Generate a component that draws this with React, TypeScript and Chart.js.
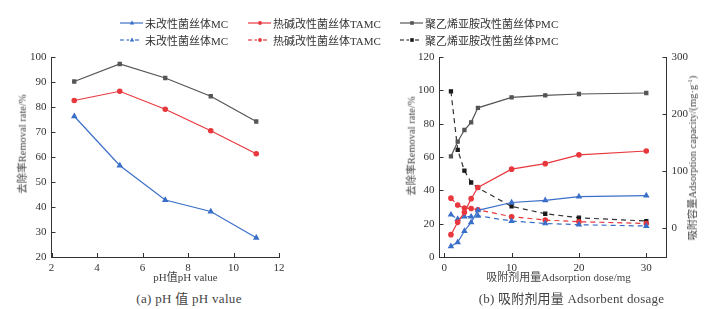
import React, { useEffect, useRef } from "react";
import { Chart, registerables } from "chart.js";

Chart.register(...registerables);

// ---------- data ----------
const phValues = [3, 5, 7, 9, 11];
const phMC = [76.3, 56.6, 42.8, 38.2, 27.7];
const phTAMC = [82.6, 86.3, 79.1, 70.5, 61.3];
const phPMC = [90.2, 97.2, 91.6, 84.3, 74.2];

const doseValues = [1, 2, 3, 4, 5, 10, 15, 20, 30];
const doseRateMC = [6.4, 8.8, 15.6, 20.8, 28.0, 32.7, 34.0, 36.2, 36.8];
const doseRateTAMC = [13.4, 20.8, 26.8, 35.0, 41.7, 52.7, 56.0, 61.3, 63.6];
const doseRatePMC = [60.4, 69.2, 76.2, 80.8, 89.5, 95.8, 97.0, 97.8, 98.4];
const doseCapMC = [24.0, 16.4, 20.5, 20.5, 22.2, 12.9, 8.7, 6.5, 4.2];
const doseCapTAMC = [53.0, 40.9, 35.6, 35.0, 32.7, 20.5, 14.7, 11.7, 8.7];
const doseCapPMC = [240.0, 137.6, 101.0, 80.4, 71.0, 38.5, 25.7, 18.7, 12.9];

const phTicks = [2, 4, 6, 8, 10, 12];
const phRateTicks = [20, 30, 40, 50, 60, 70, 80, 90, 100];
const doseTicks = [0, 10, 20, 30];
const doseRateTicks = [0, 20, 40, 60, 80, 100, 120];
const capacityTicks = [0, 100, 200, 300];

const seriesNames = ["未改性菌丝体MC", "热碱改性菌丝体TAMC", "聚乙烯亚胺改性菌丝体PMC"];

// ---------- styles ----------
const BLUE = "#3a6fc9";
const RED = "#e8383d";
const GRAY = "#555555";
const BLACK = "#1a1a1a";
const AXIS = "#333333";
const FONT = '"Liberation Serif", "Noto Sans CJK SC", serif';

const toXY = (xs: number[], ys: number[]) => xs.map((x, i) => ({ x, y: ys[i] }));

const inwardTicks = {
  id: "inwardTicks",
  afterDraw(chart: any) {
    const ctx = chart.ctx;
    const { left, right, bottom } = chart.chartArea;
    ctx.save();
    ctx.strokeStyle = AXIS;
    ctx.lineWidth = 1;
    Object.values(chart.scales).forEach((s: any) => {
      s.ticks.forEach((_t: any, i: number) => {
        const p = Math.round(s.getPixelForTick(i)) + 0.5;
        ctx.beginPath();
        if (s.position === "left") {
          ctx.moveTo(left, p);
          ctx.lineTo(left + 4, p);
        } else if (s.position === "right") {
          ctx.moveTo(right, p);
          ctx.lineTo(right - 4, p);
        } else {
          ctx.moveTo(p, bottom);
          ctx.lineTo(p, bottom - 4);
        }
        ctx.stroke();
      });
    });
    ctx.restore();
  },
};

const fixedTicks = (vals: number[]) => (scale: any) => {
  scale.ticks = vals.map((v) => ({ value: v }));
};

const axisBase = (vals: number[], min: number, max: number, size: number, horizontal: boolean) => ({
  type: "linear" as const,
  min,
  max,
  afterBuildTicks: fixedTicks(vals),
  afterFit: (s: any) => {
    if (horizontal) s.height = size;
    else s.width = size;
  },
  grid: { display: false, drawTicks: false },
  border: { display: true, color: AXIS, width: 1 },
  ticks: {
    color: AXIS,
    padding: 5,
    font: { family: FONT, size: 11 },
    autoSkip: false,
    maxRotation: 0,
  },
});

const lineDs = (
  label: string,
  data: { x: number; y: number }[],
  color: string,
  pointColor: string,
  style: string,
  dashed: boolean,
  yAxisID = "y"
) => ({
  label,
  data,
  borderColor: color,
  backgroundColor: pointColor,
  pointBackgroundColor: pointColor,
  pointBorderColor: pointColor,
  pointStyle: style,
  pointRadius: style === "triangle" ? 2.6 : 2.2,
  borderWidth: 1.2,
  borderDash: dashed ? [5, 4] : [],
  tension: 0,
  yAxisID,
});

function PhChart() {
  const ref = useRef<HTMLCanvasElement>(null);
  useEffect(() => {
    const chart = new Chart(ref.current as HTMLCanvasElement, {
      type: "line",
      data: {
        datasets: [
          lineDs(seriesNames[0], toXY(phValues, phMC), BLUE, BLUE, "triangle", false),
          lineDs(seriesNames[1], toXY(phValues, phTAMC), RED, RED, "circle", false),
          lineDs(seriesNames[2], toXY(phValues, phPMC), GRAY, GRAY, "rect", false),
        ],
      },
      options: {
        animation: false,
        responsive: false,
        maintainAspectRatio: false,
        layout: { padding: { top: 57, right: 21, left: 0, bottom: 0 } },
        plugins: { legend: { display: false }, tooltip: { enabled: false } },
        scales: {
          x: { ...axisBase(phTicks, 2, 12, 23, true), position: "bottom" },
          y: { ...axisBase(phRateTicks, 20, 100, 51.5, false), position: "left" },
        },
      } as any,
      plugins: [inwardTicks],
    });
    return () => chart.destroy();
  }, []);
  return (
    <canvas
      ref={ref}
      width={300}
      height={280}
      style={{ position: "absolute", left: 0, top: 0, width: 300, height: 280 }}
    />
  );
}

function DoseChart() {
  const ref = useRef<HTMLCanvasElement>(null);
  useEffect(() => {
    const chart = new Chart(ref.current as HTMLCanvasElement, {
      type: "line",
      data: {
        datasets: [
          lineDs(seriesNames[0], toXY(doseValues, doseRateMC), BLUE, BLUE, "triangle", false, "y"),
          lineDs(seriesNames[1], toXY(doseValues, doseRateTAMC), RED, RED, "circle", false, "y"),
          lineDs(seriesNames[2], toXY(doseValues, doseRatePMC), GRAY, GRAY, "rect", false, "y"),
          lineDs(seriesNames[0], toXY(doseValues, doseCapMC), BLUE, BLUE, "triangle", true, "y2"),
          lineDs(seriesNames[1], toXY(doseValues, doseCapTAMC), RED, RED, "circle", true, "y2"),
          lineDs(seriesNames[2], toXY(doseValues, doseCapPMC), "#333333", BLACK, "rect", true, "y2"),
        ],
      },
      options: {
        animation: false,
        responsive: false,
        maintainAspectRatio: false,
        layout: { padding: { top: 57, right: 0, left: 0, bottom: 0 } },
        plugins: { legend: { display: false }, tooltip: { enabled: false } },
        scales: {
          x: { ...axisBase(doseTicks, -0.7, 33, 23, true), position: "bottom" },
          y: { ...axisBase(doseRateTicks, 0, 120, 75.5, false), position: "left" },
          y2: {
            ...axisBase(capacityTicks, -50, 300, 60.5, false),
            position: "right",
          },
        },
      } as any,
      plugins: [inwardTicks],
    });
    return () => chart.destroy();
  }, []);
  return (
    <canvas
      ref={ref}
      width={363}
      height={280}
      style={{ position: "absolute", left: 364, top: 0, width: 363, height: 280 }}
    />
  );
}

function Marker({ shape, color }: { shape: string; color: string }) {
  if (shape === "triangle") return <polygon points="12,1.6 14.3,5.6 9.7,5.6" fill={color} />;
  if (shape === "circle") return <circle cx={12} cy={4} r={1.9} fill={color} />;
  return <rect x={10.2} y={2.2} width={3.6} height={3.6} fill={color} />;
}

function LegendItem({
  x,
  y,
  color,
  pointColor,
  shape,
  dashed,
  label,
}: {
  x: number;
  y: number;
  color: string;
  pointColor: string;
  shape: string;
  dashed: boolean;
  label: string;
}) {
  return (
    <div
      style={{
        position: "absolute",
        left: x,
        top: y - 8,
        height: 16,
        display: "flex",
        alignItems: "center",
        whiteSpace: "nowrap",
      }}
    >
      <svg width={23} height={8} style={{ display: "block" }}>
        {dashed ? (
          <>
            <line x1={0} y1={4} x2={4} y2={4} stroke={color} strokeWidth={1.2} />
            <line x1={6.5} y1={4} x2={9} y2={4} stroke={color} strokeWidth={1.2} />
            <line x1={15} y1={4} x2={19} y2={4} stroke={color} strokeWidth={1.2} />
          </>
        ) : (
          <line x1={0} y1={4} x2={23} y2={4} stroke={color} strokeWidth={1.2} />
        )}
        <Marker shape={shape} color={pointColor} />
      </svg>
      <span style={{ marginLeft: 2, fontFamily: FONT, fontSize: 11, color: "#333" }}>{label}</span>
    </div>
  );
}

function Label({
  x,
  y,
  text,
  rotate,
  size = 11,
  spacing = 0,
}: {
  x: number;
  y: number;
  text: React.ReactNode;
  rotate?: boolean;
  size?: number;
  spacing?: number;
}) {
  return (
    <div
      style={{
        position: "absolute",
        left: x,
        top: y,
        transform: `translate(-50%, -50%)${rotate ? " rotate(-90deg)" : ""}`,
        whiteSpace: "nowrap",
        fontFamily: FONT,
        fontSize: size,
        letterSpacing: spacing,
        color: "#444",
        lineHeight: 1,
      }}
    >
      {text}
    </div>
  );
}

export default function App() {
  useEffect(() => {
    document.body.style.margin = "0";
  }, []);
  const cols = [120, 248, 400];
  const styles = [
    { color: BLUE, point: BLUE, shape: "triangle" },
    { color: RED, point: RED, shape: "circle" },
    { color: GRAY, point: GRAY, shape: "rect" },
  ];
  const dashedStyles = [
    { color: BLUE, point: BLUE, shape: "triangle" },
    { color: RED, point: RED, shape: "circle" },
    { color: "#333", point: BLACK, shape: "rect" },
  ];
  return (
    <div
      style={{
        position: "fixed",
        left: 0,
        top: 0,
        width: 727,
        height: 309,
        background: "#fff",
        overflow: "hidden",
      }}
    >
      <PhChart />
      <DoseChart />
      {seriesNames.map((n, i) => (
        <LegendItem
          key={"s" + i}
          x={cols[i]}
          y={23}
          color={styles[i].color}
          pointColor={styles[i].point}
          shape={styles[i].shape}
          dashed={false}
          label={n}
        />
      ))}
      {seriesNames.map((n, i) => (
        <LegendItem
          key={"d" + i}
          x={cols[i]}
          y={40}
          color={dashedStyles[i].color}
          pointColor={dashedStyles[i].point}
          shape={dashedStyles[i].shape}
          dashed={true}
          label={n}
        />
      ))}
      <Label x={185.5} y={277} text="pH值pH value" />
      <Label x={558.5} y={277} text="吸附剂用量Adsorption dose/mg" />
      <Label x={23} y={143.5} text="去除率Removal rate/%" rotate size={10.5} />
      <Label x={412} y={146} text="去除率Removal rate/%" rotate size={10.5} />
      <Label
        x={692}
        y={158}
        text={
          <span>
            吸附容量Adsorption capacity/(mg·g<sup style={{ fontSize: 7 }}>-1</sup>)
          </span>
        }
        rotate
        size={10.5}
      />
      <Label x={189} y={298} text="(a) pH 值 pH value" size={13} spacing={0.3} />
      <Label x={571.5} y={298} text="(b) 吸附剂用量 Adsorbent dosage" size={13} spacing={0.2} />
    </div>
  );
}
